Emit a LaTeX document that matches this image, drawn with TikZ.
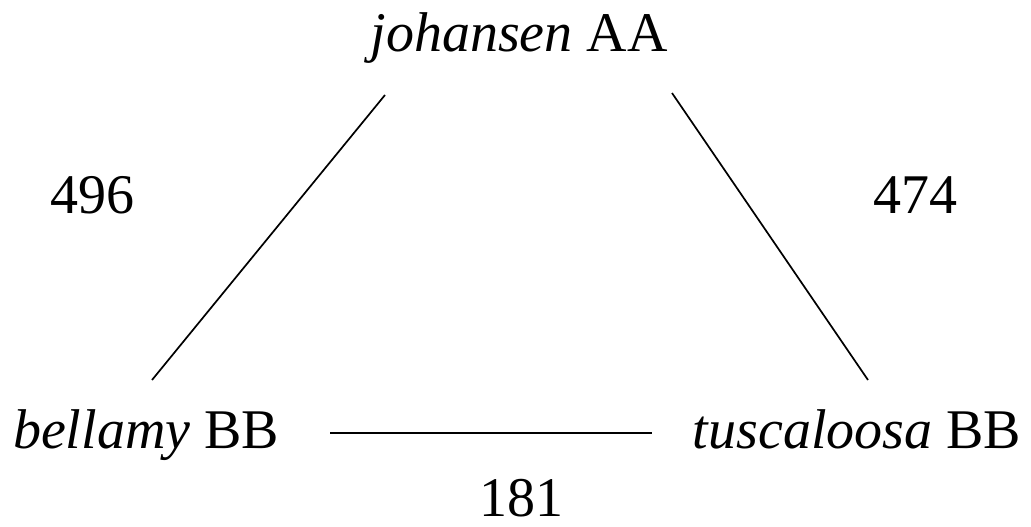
\documentclass[tikz,border=0pt]{standalone}
\usepackage{fontspec}
\setmainfont{Liberation Serif}
\begin{document}
\begin{tikzpicture}[x=1pt,y=-1pt,
  lbl/.style={font=\fontsize{56}{62}\selectfont, inner sep=0pt, anchor=base},
  edge/.style={line width=1.7pt}]
\useasboundingbox (0,0) rectangle (1031,527);
\node[lbl] (jo) at (519,52) {\textit{johansen} AA};
\node[lbl] (be) at (146,448) {\textit{bellamy} BB};
\node[lbl] (tu) at (857,448) {\textit{tuscaloosa} BB};
\node[lbl] (n496) at (92,213) {496};
\node[lbl] (n474) at (915,213) {474};
\node[lbl] (n181) at (521,516) {181};
\coordinate (a1) at (385,95);
\coordinate (a2) at (152,380);
\coordinate (b1) at (672,93);
\coordinate (b2) at (868,380);
\coordinate (c1) at (330,433);
\coordinate (c2) at (652,433);
\draw[edge] (a1) -- (a2);
\draw[edge] (b1) -- (b2);
\draw[edge] (c1) -- (c2);
\end{tikzpicture}
\end{document}
